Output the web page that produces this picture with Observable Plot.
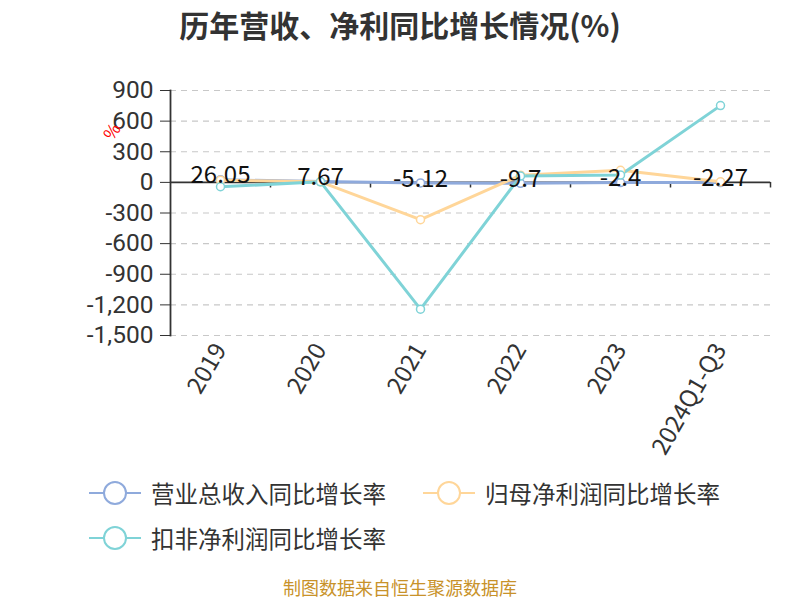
<!DOCTYPE html>
<html><head><meta charset="utf-8">
<script src="https://cdn.jsdelivr.net/npm/d3@7"></script>
<script src="https://cdn.jsdelivr.net/npm/@observablehq/plot@0.6"></script>
<style>
body{margin:0;background:#fff;font-family:"Noto Sans CJK SC","Noto Sans",sans-serif;}
#wrap{position:relative;width:800px;height:600px;overflow:hidden;}
#title{position:absolute;left:0;top:0;width:800px;height:48px;line-height:48px;text-align:center;font-size:30px;font-weight:bold;color:#333;}
#chart{position:absolute;left:0;top:44px;}
.leg{position:absolute;display:flex;align-items:center;font-size:23.5px;color:#333;white-space:nowrap;}
.leg svg{margin-right:10px;}
#caption{position:absolute;left:0;top:576px;width:800px;text-align:center;font-size:18px;color:#c8922a;line-height:22px;}
</style></head>
<body><div id="wrap">
<div id="title">历年营收、净利同比增长情况(%)</div>
<div id="chart"></div>
<div id="legend"></div>
<div id="caption">制图数据来自恒生聚源数据库</div>
</div>
<script>
const categories = ["2019","2020","2021","2022","2023","2024Q1-Q3"];
const revenueGrowth = [26.05, 7.67, -5.12, -9.7, -2.4, -2.27];
const parentProfitGrowth = [22, 5, -365, 70, 118, 5];
const deductedProfitGrowth = [-43, 5, -1242, 62, 72, 752];
const revenueLabels = ["26.05","7.67","-5.12","-9.7","-2.4","-2.27"];
const yTicks = [-1500,-1200,-900,-600,-300,0,300,600,900];
const seriesNames = ["营业总收入同比增长率","归母净利润同比增长率","扣非净利润同比增长率"];
const seriesColors = ["#8FAADC","#FFD699","#7FD3D7"];

const seriesValues = [revenueGrowth, parentProfitGrowth, deductedProfitGrowth];
const rows = seriesValues.map((vals, s) => categories.map((c, i) => ({cat: c, v: vals[i], s})));
const labelRows = categories.map((c, i) => ({cat: c, v: revenueGrowth[i], t: revenueLabels[i]}));
const fmt = d => d.toLocaleString("en-US");

const lineMarks = rows.map((r, s) => Plot.line(r, {x: "cat", y: "v", stroke: seriesColors[s], strokeWidth: 3}));
const dotMarks = rows.map((r, s) => Plot.dot(r, {x: "cat", y: "v", r: 4, fill: "white", stroke: seriesColors[s], strokeWidth: 1.5}));

const chart = Plot.plot({
  width: 800, height: 430,
  marginLeft: 170, marginRight: 30, marginTop: 46, marginBottom: 139,
  style: {fontFamily: '"Noto Sans CJK SC","Noto Sans",sans-serif', background: "white"},
  x: {type: "band", domain: categories, padding: 0},
  y: {domain: [-1500, 900]},
  marks: [
    Plot.ruleY(yTicks.filter(d => d !== 0), {stroke: "#c8c8c8", strokeDasharray: "6,5", strokeWidth: 1.2}),
    Plot.axisY({ticks: yTicks, tickFormat: fmt, tickSize: 10, tickPadding: 7, fontSize: 24.5, fontFamily: "Roboto, 'Noto Sans', sans-serif", color: "#333", stroke: "#333", label: null}),
    Plot.axisX({tickSize: 0, tickPadding: 10, tickRotate: -60, fontSize: 24, color: "#333", label: null}),
    Plot.frame({anchor: "left", stroke: "#333", strokeWidth: 1.8}),
    Plot.ruleY([0], {stroke: "#333", strokeWidth: 1.8}),
    Plot.ruleX(categories, {x: d => d, y1: 0, y2: -55, dx: 50, stroke: "#333", strokeWidth: 1.5}),
    ...lineMarks,
    ...dotMarks,
    Plot.text(labelRows, {x: "cat", y: "v", text: "t", fontSize: 24, fill: "#111", lineAnchor: "middle", dy: -4}),
    Plot.text(["%"], {frameAnchor: "top-left", dx: -68, dy: 44, rotate: -55, fill: "red", fontSize: 17})
  ]
});
document.getElementById("chart").appendChild(chart);

const legendPos = [{left: 89, top: 475}, {left: 423, top: 475}, {left: 89, top: 520}];
const legend = document.getElementById("legend");
seriesNames.forEach((name, i) => {
  const d = document.createElement("div");
  d.className = "leg";
  d.style.left = legendPos[i].left + "px";
  d.style.top = legendPos[i].top + "px";
  d.style.height = "36px";
  const c = seriesColors[i];
  d.innerHTML = `<svg width="52" height="36"><line x1="0" y1="18" x2="52" y2="18" stroke="${c}" stroke-width="2"/><circle cx="26" cy="18" r="11" fill="white" stroke="${c}" stroke-width="2"/></svg><span>${name}</span>`;
  legend.appendChild(d);
});
</script>
</body></html>
